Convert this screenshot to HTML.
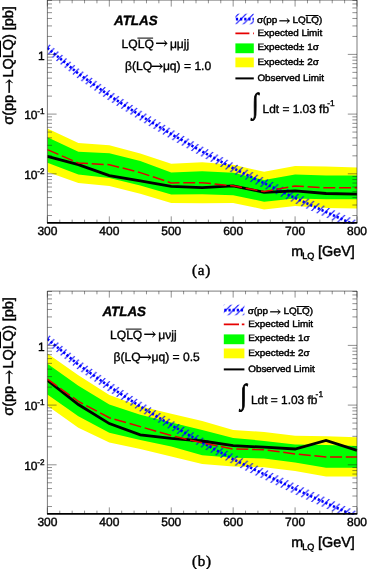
<!DOCTYPE html>
<html><head><meta charset="utf-8"><title>ATLAS LQ limits</title>
<style>
html,body{margin:0;padding:0;background:#fff;}
svg{display:block;will-change:transform;opacity:0.999;}
text{text-rendering:geometricPrecision;}
.t text{stroke:#000;stroke-width:0.36px;}
.t2 text{stroke-width:0.45px;}
.t3 text{stroke-width:0.4px;}
.t4 text{stroke-width:0.42px;}
.c{stroke:#000;stroke-width:0.45px;}
</style></head><body>
<svg width="367" height="569" viewBox="0 0 367 569">
<defs>
<clipPath id="clip"><rect x="47.4" y="0.1" width="310.1" height="223.75"/></clipPath>
<pattern id="hatch" patternUnits="userSpaceOnUse" width="7.5" height="7.5">
<path d="M-1 6L6 -1M4 8.5L8.5 4" stroke="#0000ff" stroke-width="1" fill="none"/>
</pattern>
</defs>
<rect width="367" height="569" fill="#fff"/>
<g transform="translate(0,0)">
<g clip-path="url(#clip)">
<polygon points="47.40,128.60 78.36,143.00 109.32,145.30 140.28,153.60 171.24,163.80 202.20,162.20 233.16,164.80 264.12,171.70 295.08,166.00 326.04,166.40 357.00,167.40 357.00,208.40 326.04,208.00 295.08,206.00 264.12,209.50 233.16,202.90 202.20,203.20 171.24,202.90 140.28,193.80 109.32,186.00 78.36,182.90 47.40,172.00" fill="#ffff00"/>
<polygon points="47.40,137.30 78.36,151.70 109.32,153.30 140.28,161.00 171.24,172.40 202.20,171.20 233.16,172.80 264.12,180.00 295.08,174.50 326.04,175.60 357.00,175.60 357.00,199.20 326.04,199.20 295.08,198.50 264.12,201.70 233.16,195.30 202.20,194.20 171.24,194.40 140.28,185.50 109.32,178.00 78.36,174.50 47.40,162.80" fill="#00ff00"/>
<polygon points="47.40,42.60 78.36,68.19 109.32,90.09 140.28,110.06 171.24,128.66 202.20,146.14 233.16,162.82 264.12,177.80 295.08,192.60 326.04,206.60 357.00,220.50 357.00,231.30 326.04,217.40 295.08,203.40 264.12,188.60 233.16,173.62 202.20,156.94 171.24,139.46 140.28,120.86 109.32,100.89 78.36,78.99 47.40,53.40" fill="url(#hatch)"/>
<polyline points="47.40,48.00 78.36,73.59 109.32,95.49 140.28,115.46 171.24,134.06 202.20,151.54 233.16,168.22 264.12,183.20 295.08,198.00 326.04,212.00 357.00,225.90" fill="none" stroke="#0000ff" stroke-width="2.6" stroke-dasharray="2.2 1.95"/>
<polyline points="47.40,156.30 78.36,164.60 109.32,175.60 140.28,180.80 171.24,186.30 202.20,187.70 233.16,185.80 264.12,192.30 295.08,190.90 326.04,193.50 357.00,194.10" fill="none" stroke="#000" stroke-width="2.8" stroke-linejoin="miter"/>
<polyline points="47.40,149.60 78.36,163.00 109.32,164.70 140.28,172.60 171.24,182.90 202.20,182.70 233.16,185.80 264.12,191.60 295.08,186.00 326.04,187.80 357.00,187.80" fill="none" stroke="#e00000" stroke-width="1.5" stroke-dasharray="12 3.7"/>
</g>
<g stroke="#000" fill="none">
<path d="M47.40 222.85v-6.50M47.40 0.10v6.50M59.78 222.85v-3.20M59.78 0.10v3.20M72.17 222.85v-3.20M72.17 0.10v3.20M84.55 222.85v-3.20M84.55 0.10v3.20M96.94 222.85v-3.20M96.94 0.10v3.20M109.32 222.85v-6.50M109.32 0.10v6.50M121.70 222.85v-3.20M121.70 0.10v3.20M134.09 222.85v-3.20M134.09 0.10v3.20M146.47 222.85v-3.20M146.47 0.10v3.20M158.86 222.85v-3.20M158.86 0.10v3.20M171.24 222.85v-6.50M171.24 0.10v6.50M183.62 222.85v-3.20M183.62 0.10v3.20M196.01 222.85v-3.20M196.01 0.10v3.20M208.39 222.85v-3.20M208.39 0.10v3.20M220.78 222.85v-3.20M220.78 0.10v3.20M233.16 222.85v-6.50M233.16 0.10v6.50M245.54 222.85v-3.20M245.54 0.10v3.20M257.93 222.85v-3.20M257.93 0.10v3.20M270.31 222.85v-3.20M270.31 0.10v3.20M282.70 222.85v-3.20M282.70 0.10v3.20M295.08 222.85v-6.50M295.08 0.10v6.50M307.46 222.85v-3.20M307.46 0.10v3.20M319.85 222.85v-3.20M319.85 0.10v3.20M332.23 222.85v-3.20M332.23 0.10v3.20M344.62 222.85v-3.20M344.62 0.10v3.20M357.00 222.85v-6.50M357.00 0.10v6.50M47.40 54.40h9.20M357.00 54.40h-9.20M47.40 36.43h4.60M357.00 36.43h-4.60M47.40 25.92h4.60M357.00 25.92h-4.60M47.40 18.46h4.60M357.00 18.46h-4.60M47.40 12.67h4.60M357.00 12.67h-4.60M47.40 7.94h4.60M357.00 7.94h-4.60M47.40 3.95h4.60M357.00 3.95h-4.60M47.40 0.49h4.60M357.00 0.49h-4.60M47.40 114.10h9.20M357.00 114.10h-9.20M47.40 96.13h4.60M357.00 96.13h-4.60M47.40 85.62h4.60M357.00 85.62h-4.60M47.40 78.16h4.60M357.00 78.16h-4.60M47.40 72.37h4.60M357.00 72.37h-4.60M47.40 67.64h4.60M357.00 67.64h-4.60M47.40 63.65h4.60M357.00 63.65h-4.60M47.40 60.19h4.60M357.00 60.19h-4.60M47.40 57.13h4.60M357.00 57.13h-4.60M47.40 173.80h9.20M357.00 173.80h-9.20M47.40 155.83h4.60M357.00 155.83h-4.60M47.40 145.32h4.60M357.00 145.32h-4.60M47.40 137.86h4.60M357.00 137.86h-4.60M47.40 132.07h4.60M357.00 132.07h-4.60M47.40 127.34h4.60M357.00 127.34h-4.60M47.40 123.35h4.60M357.00 123.35h-4.60M47.40 119.89h4.60M357.00 119.89h-4.60M47.40 116.83h4.60M357.00 116.83h-4.60M47.40 215.53h4.60M357.00 215.53h-4.60M47.40 205.02h4.60M357.00 205.02h-4.60M47.40 197.56h4.60M357.00 197.56h-4.60M47.40 191.77h4.60M357.00 191.77h-4.60M47.40 187.04h4.60M357.00 187.04h-4.60M47.40 183.05h4.60M357.00 183.05h-4.60M47.40 179.59h4.60M357.00 179.59h-4.60M47.40 176.53h4.60M357.00 176.53h-4.60" stroke-width="0.5" stroke="#222"/>
<path d="M47.40 222.85V0.10H357.00V222.85" stroke-width="0.6" stroke="#222"/>
<line x1="47.10" y1="222.85" x2="357.30" y2="222.85" stroke-width="1.6"/>
</g>
<g font-family="Liberation Sans, Arial, Helvetica, sans-serif" font-size="12" fill="#000" class="t t3">
<text id="ax300" x="47.40" y="235.3" text-anchor="middle">300</text>
<text id="ax400" x="109.32" y="235.3" text-anchor="middle">400</text>
<text id="ax500" x="171.24" y="235.3" text-anchor="middle">500</text>
<text id="ax600" x="233.16" y="235.3" text-anchor="middle">600</text>
<text id="ax700" x="295.08" y="235.3" text-anchor="middle">700</text>
<text id="ax800" x="357.00" y="235.3" text-anchor="middle">800</text>
<text id="ay0" x="44.7" y="59.5" text-anchor="end">1</text>
<text id="ay1" x="37.5" y="119.2" text-anchor="end">10</text><text id="ay1e" x="37.3" y="114.0" font-size="8.2">-1</text>
<text id="ay2" x="37.5" y="178.9" text-anchor="end">10</text><text id="ay2e" x="37.3" y="173.7" font-size="8.2">-2</text>
</g>
<g font-family="Liberation Sans, Arial, Helvetica, sans-serif" font-size="14.4" fill="#000" class="t t2">
<text id="axt1" x="291.3" y="255.5">m</text><text id="axt2" x="302.3" y="258.7" font-size="9.1">LQ</text><text id="axt3" x="318.0" y="255.5">[GeV]</text>
<g transform="translate(13.0,124.7) rotate(-90)">
<text id="ayt1" x="0" y="0">σ(pp</text>
<text id="ayt2" transform="translate(31.02,1.53) scale(1.001,1)" font-family="DejaVu Serif, DejaVu Sans, serif" font-size="17.95" style="stroke-width:0.25px">→</text>
<text id="ayt3" x="47.2" y="0">LQLQ) [pb]</text>
<line x1="67.5" y1="-12.5" x2="84.0" y2="-12.5" stroke="#000" stroke-width="1.0"/>
</g></g>
<g font-family="Liberation Sans, Arial, Helvetica, sans-serif" fill="#000" class="t">
<text id="aatlas" x="114.00" y="25.4" font-size="13.4" font-weight="bold" font-style="italic">ATLAS</text>
<text id="al2a" x="121.60" y="47.6" font-size="12.1">LQLQ</text>
<text id="al2b" transform="translate(155.20,48.27) scale(1.045,1)" font-family="DejaVu Serif, DejaVu Sans, serif" font-size="14.36" style="stroke-width:0.25px">→</text>
<text id="al2c" x="169.90" y="47.6" font-size="12.1">μμjj</text>
<line x1="137.40" y1="38.1" x2="153.10" y2="38.1" stroke="#000" stroke-width="1"/>
<text id="al3a" x="125.00" y="70.4" font-size="12.1">β(LQ</text>
<text id="al3b" transform="translate(150.49,71.07) scale(1.054,1)" font-family="DejaVu Serif, DejaVu Sans, serif" font-size="14.36" style="stroke-width:0.25px">→</text>
<text id="al3c" x="162.90" y="70.4" font-size="12.1">μq) = 1.0</text>
<text id="aint" transform="translate(251.90,113.4) scale(0.82,1)" font-size="28.6" font-family="Liberation Serif, Times New Roman, serif" style="stroke-width:0.9px">∫</text>
<text id="aldt" x="262.60" y="112.8" font-size="11.9">Ldt = 1.03 fb</text><text id="aldte" x="327.20" y="106.2" font-size="8.4">-1</text>
</g>
<g font-family="Liberation Sans, Arial, Helvetica, sans-serif" font-size="9.25" fill="#000" class="t t4">
<rect x="235.40" y="13.7" width="18.40" height="10.6" fill="url(#hatch)"/>
<line x1="235.90" y1="19.1" x2="253.80" y2="19.1" stroke="#0000ff" stroke-width="2.6" stroke-dasharray="2.2 1.95"/>
<text id="ag1a" transform="translate(256.90,22.90) scale(1.070,1)">σ(pp</text>
<text id="ag1b" transform="translate(278.78,24.57) scale(1.065,1)" font-family="DejaVu Serif, DejaVu Sans, serif" font-size="12.82" style="stroke-width:0.25px">→</text>
<text id="ag1c" transform="translate(292.60,22.90) scale(1.070,1)">LQLQ)</text>
<line x1="305.60" y1="15.50" x2="318.60" y2="15.50" stroke="#000" stroke-width="1"/>
<line x1="235.40" y1="33.4" x2="253.80" y2="33.4" stroke="#e60000" stroke-width="1.6" stroke-dasharray="14 3.6"/>
<text id="ag2" transform="translate(257.40,36.20) scale(1.070,1)">Expected Limit</text>
<rect x="235.40" y="43.4" width="18.40" height="9.8" fill="#00ff00"/>
<text id="ag3a" transform="translate(257.40,50.20) scale(1.070,1)">Expected</text>
<text id="ag3b" transform="translate(298.80,50.20) scale(1.070,1)">±</text>
<text id="ag3c" transform="translate(307.20,50.20) scale(1.070,1)">1σ</text>
<rect x="235.40" y="57.5" width="18.40" height="9.8" fill="#ffff00"/>
<text id="ag4a" transform="translate(257.40,64.80) scale(1.070,1)">Expected</text>
<text id="ag4b" transform="translate(298.80,64.80) scale(1.070,1)">±</text>
<text id="ag4c" transform="translate(307.20,64.80) scale(1.070,1)">2σ</text>
<line x1="235.40" y1="78.4" x2="253.80" y2="78.4" stroke="#000" stroke-width="2"/>
<text id="ag5" transform="translate(257.40,80.90) scale(1.070,1)">Observed Limit</text>
</g>
<text id="acap" x="191.9" y="274.9" letter-spacing="0.8" font-family="Liberation Serif, Times New Roman, serif" font-size="15" fill="#000" class="c">(a)</text>
</g>
<g transform="translate(0,291)">
<g clip-path="url(#clip)">
<polygon points="47.40,62.40 78.36,84.30 109.32,104.00 140.28,115.20 171.24,122.70 202.20,130.00 233.16,139.00 264.12,140.90 295.08,144.70 326.04,145.20 357.00,146.20 357.00,185.50 326.04,185.50 295.08,180.00 264.12,176.20 233.16,175.50 202.20,172.90 171.24,165.50 140.28,158.10 109.32,151.50 78.36,136.70 47.40,114.80" fill="#ffff00"/>
<polygon points="47.40,72.80 78.36,94.80 109.32,113.50 140.28,123.80 171.24,131.60 202.20,139.10 233.16,146.90 264.12,149.90 295.08,153.60 326.04,153.90 357.00,155.00 357.00,176.80 326.04,176.80 295.08,171.40 264.12,167.60 233.16,166.70 202.20,164.30 171.24,155.50 140.28,149.00 109.32,141.70 78.36,125.30 47.40,103.40" fill="#00ff00"/>
<polygon points="47.40,42.60 78.36,68.19 109.32,90.09 140.28,110.06 171.24,128.66 202.20,146.14 233.16,162.82 264.12,177.80 295.08,192.60 326.04,206.60 357.00,220.50 357.00,231.30 326.04,217.40 295.08,203.40 264.12,188.60 233.16,173.62 202.20,156.94 171.24,139.46 140.28,120.86 109.32,100.89 78.36,78.99 47.40,53.40" fill="url(#hatch)"/>
<polyline points="47.40,48.00 78.36,73.59 109.32,95.49 140.28,115.46 171.24,134.06 202.20,151.54 233.16,168.22 264.12,183.20 295.08,198.00 326.04,212.00 357.00,225.90" fill="none" stroke="#0000ff" stroke-width="2.6" stroke-dasharray="2.2 1.95"/>
<polyline points="47.40,89.40 78.36,113.50 109.32,132.60 140.28,143.80 171.24,147.30 202.20,150.00 233.16,154.70 264.12,156.20 295.08,158.00 326.04,149.50 357.00,159.30" fill="none" stroke="#000" stroke-width="2.8" stroke-linejoin="miter"/>
<polyline points="47.40,88.10 78.36,110.40 109.32,126.70 140.28,135.60 171.24,144.50 202.20,151.90 233.16,158.00 264.12,158.70 295.08,162.90 326.04,165.90 357.00,165.90" fill="none" stroke="#e00000" stroke-width="1.5" stroke-dasharray="12 3.7"/>
</g>
<g stroke="#000" fill="none">
<path d="M47.40 222.85v-6.50M47.40 0.10v6.50M59.78 222.85v-3.20M59.78 0.10v3.20M72.17 222.85v-3.20M72.17 0.10v3.20M84.55 222.85v-3.20M84.55 0.10v3.20M96.94 222.85v-3.20M96.94 0.10v3.20M109.32 222.85v-6.50M109.32 0.10v6.50M121.70 222.85v-3.20M121.70 0.10v3.20M134.09 222.85v-3.20M134.09 0.10v3.20M146.47 222.85v-3.20M146.47 0.10v3.20M158.86 222.85v-3.20M158.86 0.10v3.20M171.24 222.85v-6.50M171.24 0.10v6.50M183.62 222.85v-3.20M183.62 0.10v3.20M196.01 222.85v-3.20M196.01 0.10v3.20M208.39 222.85v-3.20M208.39 0.10v3.20M220.78 222.85v-3.20M220.78 0.10v3.20M233.16 222.85v-6.50M233.16 0.10v6.50M245.54 222.85v-3.20M245.54 0.10v3.20M257.93 222.85v-3.20M257.93 0.10v3.20M270.31 222.85v-3.20M270.31 0.10v3.20M282.70 222.85v-3.20M282.70 0.10v3.20M295.08 222.85v-6.50M295.08 0.10v6.50M307.46 222.85v-3.20M307.46 0.10v3.20M319.85 222.85v-3.20M319.85 0.10v3.20M332.23 222.85v-3.20M332.23 0.10v3.20M344.62 222.85v-3.20M344.62 0.10v3.20M357.00 222.85v-6.50M357.00 0.10v6.50M47.40 54.40h9.20M357.00 54.40h-9.20M47.40 36.43h4.60M357.00 36.43h-4.60M47.40 25.92h4.60M357.00 25.92h-4.60M47.40 18.46h4.60M357.00 18.46h-4.60M47.40 12.67h4.60M357.00 12.67h-4.60M47.40 7.94h4.60M357.00 7.94h-4.60M47.40 3.95h4.60M357.00 3.95h-4.60M47.40 0.49h4.60M357.00 0.49h-4.60M47.40 114.10h9.20M357.00 114.10h-9.20M47.40 96.13h4.60M357.00 96.13h-4.60M47.40 85.62h4.60M357.00 85.62h-4.60M47.40 78.16h4.60M357.00 78.16h-4.60M47.40 72.37h4.60M357.00 72.37h-4.60M47.40 67.64h4.60M357.00 67.64h-4.60M47.40 63.65h4.60M357.00 63.65h-4.60M47.40 60.19h4.60M357.00 60.19h-4.60M47.40 57.13h4.60M357.00 57.13h-4.60M47.40 173.80h9.20M357.00 173.80h-9.20M47.40 155.83h4.60M357.00 155.83h-4.60M47.40 145.32h4.60M357.00 145.32h-4.60M47.40 137.86h4.60M357.00 137.86h-4.60M47.40 132.07h4.60M357.00 132.07h-4.60M47.40 127.34h4.60M357.00 127.34h-4.60M47.40 123.35h4.60M357.00 123.35h-4.60M47.40 119.89h4.60M357.00 119.89h-4.60M47.40 116.83h4.60M357.00 116.83h-4.60M47.40 215.53h4.60M357.00 215.53h-4.60M47.40 205.02h4.60M357.00 205.02h-4.60M47.40 197.56h4.60M357.00 197.56h-4.60M47.40 191.77h4.60M357.00 191.77h-4.60M47.40 187.04h4.60M357.00 187.04h-4.60M47.40 183.05h4.60M357.00 183.05h-4.60M47.40 179.59h4.60M357.00 179.59h-4.60M47.40 176.53h4.60M357.00 176.53h-4.60" stroke-width="0.5" stroke="#222"/>
<path d="M47.40 222.85V0.10H357.00V222.85" stroke-width="0.6" stroke="#222"/>
<line x1="47.10" y1="222.85" x2="357.30" y2="222.85" stroke-width="1.6"/>
</g>
<g font-family="Liberation Sans, Arial, Helvetica, sans-serif" font-size="12" fill="#000" class="t t3">
<text id="bx300" x="47.40" y="235.3" text-anchor="middle">300</text>
<text id="bx400" x="109.32" y="235.3" text-anchor="middle">400</text>
<text id="bx500" x="171.24" y="235.3" text-anchor="middle">500</text>
<text id="bx600" x="233.16" y="235.3" text-anchor="middle">600</text>
<text id="bx700" x="295.08" y="235.3" text-anchor="middle">700</text>
<text id="bx800" x="357.00" y="235.3" text-anchor="middle">800</text>
<text id="by0" x="44.7" y="59.5" text-anchor="end">1</text>
<text id="by1" x="37.5" y="119.2" text-anchor="end">10</text><text id="by1e" x="37.3" y="114.0" font-size="8.2">-1</text>
<text id="by2" x="37.5" y="178.9" text-anchor="end">10</text><text id="by2e" x="37.3" y="173.7" font-size="8.2">-2</text>
</g>
<g font-family="Liberation Sans, Arial, Helvetica, sans-serif" font-size="14.4" fill="#000" class="t t2">
<text id="bxt1" x="291.3" y="255.5">m</text><text id="bxt2" x="302.3" y="258.7" font-size="9.1">LQ</text><text id="bxt3" x="318.0" y="255.5">[GeV]</text>
<g transform="translate(13.0,124.7) rotate(-90)">
<text id="byt1" x="0" y="0">σ(pp</text>
<text id="byt2" transform="translate(31.02,1.53) scale(1.001,1)" font-family="DejaVu Serif, DejaVu Sans, serif" font-size="17.95" style="stroke-width:0.25px">→</text>
<text id="byt3" x="47.2" y="0">LQLQ) [pb]</text>
<line x1="67.5" y1="-12.5" x2="84.0" y2="-12.5" stroke="#000" stroke-width="1.0"/>
</g></g>
<g font-family="Liberation Sans, Arial, Helvetica, sans-serif" fill="#000" class="t">
<text id="batlas" x="102.40" y="25.4" font-size="13.4" font-weight="bold" font-style="italic">ATLAS</text>
<text id="bl2a" x="110.00" y="47.6" font-size="12.1">LQLQ</text>
<text id="bl2b" transform="translate(143.60,48.27) scale(1.045,1)" font-family="DejaVu Serif, DejaVu Sans, serif" font-size="14.36" style="stroke-width:0.25px">→</text>
<text id="bl2c" x="158.30" y="47.6" font-size="12.1">μνjj</text>
<line x1="125.80" y1="38.1" x2="141.50" y2="38.1" stroke="#000" stroke-width="1"/>
<text id="bl3a" x="113.60" y="70.4" font-size="12.1">β(LQ</text>
<text id="bl3b" transform="translate(139.09,71.07) scale(1.054,1)" font-family="DejaVu Serif, DejaVu Sans, serif" font-size="14.36" style="stroke-width:0.25px">→</text>
<text id="bl3c" x="151.50" y="70.4" font-size="12.1">μq) = 0.5</text>
<text id="bint" transform="translate(240.30,113.4) scale(0.82,1)" font-size="28.6" font-family="Liberation Serif, Times New Roman, serif" style="stroke-width:0.9px">∫</text>
<text id="bldt" x="251.00" y="112.8" font-size="11.9">Ldt = 1.03 fb</text><text id="bldte" x="315.60" y="106.2" font-size="8.4">-1</text>
</g>
<g font-family="Liberation Sans, Arial, Helvetica, sans-serif" font-size="9.25" fill="#000" class="t t4">
<rect x="223.80" y="13.7" width="20.60" height="10.6" fill="url(#hatch)"/>
<line x1="224.30" y1="19.1" x2="244.40" y2="19.1" stroke="#0000ff" stroke-width="2.6" stroke-dasharray="2.2 1.95"/>
<text id="bg1a" transform="translate(247.70,22.90) scale(1.070,1)">σ(pp</text>
<text id="bg1b" transform="translate(269.58,24.57) scale(1.065,1)" font-family="DejaVu Serif, DejaVu Sans, serif" font-size="12.82" style="stroke-width:0.25px">→</text>
<text id="bg1c" transform="translate(283.40,22.90) scale(1.070,1)">LQLQ)</text>
<line x1="296.40" y1="15.50" x2="309.40" y2="15.50" stroke="#000" stroke-width="1"/>
<line x1="223.80" y1="33.4" x2="244.40" y2="33.4" stroke="#e60000" stroke-width="1.6" stroke-dasharray="15.2 2.8"/>
<text id="bg2" transform="translate(248.20,36.20) scale(1.070,1)">Expected Limit</text>
<rect x="223.80" y="43.4" width="20.60" height="9.8" fill="#00ff00"/>
<text id="bg3a" transform="translate(248.20,50.20) scale(1.070,1)">Expected</text>
<text id="bg3b" transform="translate(289.60,50.20) scale(1.070,1)">±</text>
<text id="bg3c" transform="translate(298.00,50.20) scale(1.070,1)">1σ</text>
<rect x="223.80" y="57.5" width="20.60" height="9.8" fill="#ffff00"/>
<text id="bg4a" transform="translate(248.20,64.80) scale(1.070,1)">Expected</text>
<text id="bg4b" transform="translate(289.60,64.80) scale(1.070,1)">±</text>
<text id="bg4c" transform="translate(298.00,64.80) scale(1.070,1)">2σ</text>
<line x1="223.80" y1="78.4" x2="244.40" y2="78.4" stroke="#000" stroke-width="2"/>
<text id="bg5" transform="translate(248.20,80.90) scale(1.070,1)">Observed Limit</text>
</g>
<text id="bcap" x="191.9" y="274.9" letter-spacing="0.8" font-family="Liberation Serif, Times New Roman, serif" font-size="15" fill="#000" class="c">(b)</text>
</g>
</svg>
</body></html>
